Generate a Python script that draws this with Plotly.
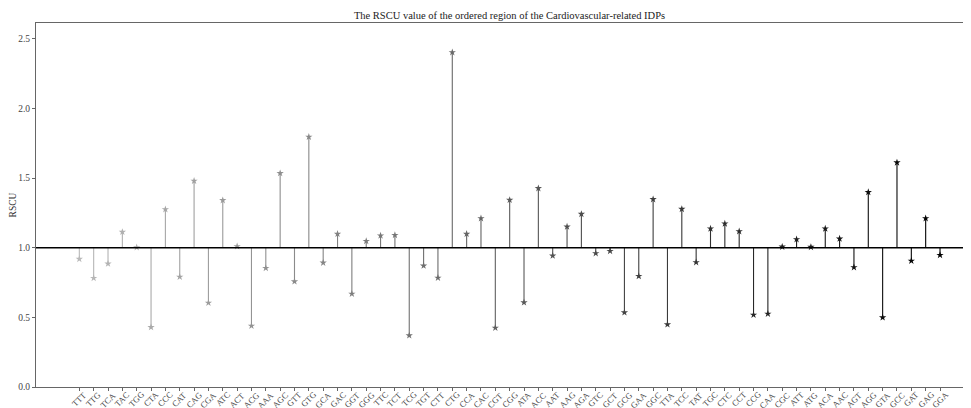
import plotly.graph_objects as go

codons = ["TTT","TTG","TCA","TAC","TGG","CTA","CCC","CAT","CAG","CGA","ATC","ACT","ACG","AAA",
          "AGC","GTT","GTG","GCA","GAC","GGT","GGG","TTC","TCT","TCG","TGT","CTT","CTG","CCA",
          "CAC","CGT","CGG","ATA","ACC","AAT","AAG","AGA","GTC","GCT","GCG","GAA","GGC","TTA",
          "TCC","TAT","TGC","CTC","CCT","CCG","CAA","CGC","ATT","ATG","ACA","AAC","AGT","AGG",
          "GTA","GCC","GAT","GAG","GGA"]
rscu = [0.919,0.782,0.885,1.113,1.003,0.429,1.276,0.791,1.480,0.604,1.341,1.010,0.439,0.854,
        1.535,0.758,1.796,0.892,1.099,0.669,1.048,1.087,1.091,0.370,0.871,0.784,2.403,1.099,
        1.211,0.425,1.343,0.607,1.427,0.943,1.151,1.242,0.960,0.976,0.535,0.796,1.348,0.449,
        1.278,0.895,1.137,1.173,1.118,0.518,0.525,1.007,1.060,1.005,1.137,1.065,0.859,1.399,
        0.499,1.612,0.906,1.211,0.947]
baseline = 1.0
y_ticks = [0.0, 0.5, 1.0, 1.5, 2.0, 2.5]

n = len(codons)
def shade(i):
    g = int(round(185 * (1 - i / (n - 1))))
    return f"rgb({g},{g},{g})"
colors = [shade(i) for i in range(n)]

FF = "Liberation Serif"
W, H = 963, 400  # page body has an 8px margin

fig = go.Figure()
for i, (c, v) in enumerate(zip(codons, rscu)):
    fig.add_trace(go.Scatter(x=[i, i], y=[baseline, v], mode="lines",
                             line=dict(color=colors[i], width=1.1),
                             hoverinfo="skip", showlegend=False))
fig.add_trace(go.Scatter(x=list(range(n)), y=rscu, mode="markers",
                         marker=dict(symbol="star", size=5.5, color=colors, line=dict(width=0)),
                         text=codons, showlegend=False))
fig.add_shape(type="line", xref="paper", yref="y", x0=0, x1=1, y0=baseline, y1=baseline,
              line=dict(color="black", width=1.6))

for i, c in enumerate(codons):
    fig.add_annotation(x=i, y=0, xref="x", yref="y", text=c, showarrow=False,
                       textangle=-45, xanchor="center", yanchor="top", yshift=0,
                       font=dict(family=FF, size=8.5, color="#444"))

fig.update_layout(
    width=W, height=H,
    margin=dict(l=28, r=0, t=15, b=21),
    plot_bgcolor="white", paper_bgcolor="white",
    font=dict(family=FF, color="#333", size=10),
    title=dict(text="The RSCU value of the ordered region of the Cardiovascular-related IDPs",
               x=501.5/W, xanchor="center", y=1-7/H, yanchor="middle",
               font=dict(size=10.5, color="#222", family=FF)),
    xaxis=dict(range=[-3.02, 62.16], tickmode="array", tickvals=list(range(n)),
               showticklabels=False, showgrid=False, zeroline=False, showline=True,
               linecolor="#666", linewidth=1, mirror=True, ticks="outside", ticklen=3,
               tickcolor="#666", automargin=False),
    yaxis=dict(range=[0, 2.614], tickvals=y_ticks, ticktext=[f"{t:.1f}" for t in y_ticks],
               showgrid=False, zeroline=False, showline=True, linecolor="#666", linewidth=1,
               ticks="outside", ticklen=3, tickcolor="#666",
               tickfont=dict(family=FF, size=9.5, color="#444"),
               title=dict(text="RSCU", font=dict(family=FF, size=9.5, color="#333"), standoff=6),
               automargin=False),
)
fig.write_html("out.html")
